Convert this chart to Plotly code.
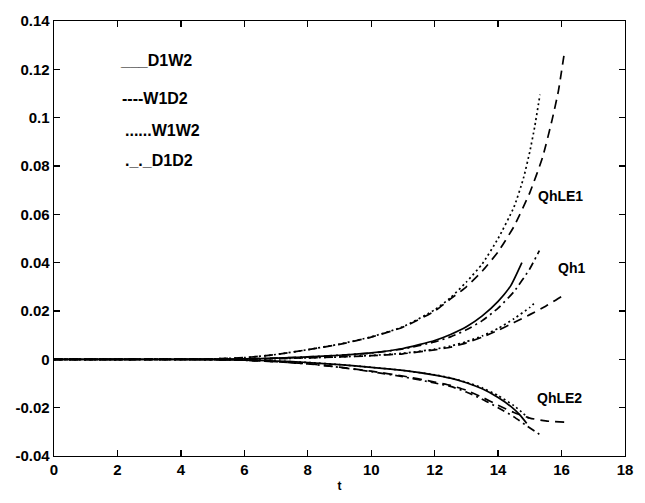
import plotly.graph_objects as go

# ---------------- data ----------------
# QhLE1 group (upper)
t_w1d2_le1 = [0, 2, 4, 5, 6, 7, 8, 9, 10, 11, 12, 12.5, 13, 13.5, 14, 14.5, 15, 15.4, 15.7, 15.9, 16.09]
y_w1d2_le1 = [0, 0, 0.0001, 0.0002, 0.0007, 0.0020, 0.0040, 0.0062, 0.0092, 0.0133, 0.0200, 0.0250, 0.0300, 0.0365, 0.0445, 0.0550, 0.0690, 0.0835, 0.0990, 0.1110, 0.1270]

t_w1w2_le1 = [0, 2, 4, 5, 6, 7, 8, 9, 10, 11, 12, 12.5, 13, 13.5, 14, 14.5, 14.8, 15.0, 15.15, 15.32]
y_w1w2_le1 = [0, 0, 0.0001, 0.0002, 0.0007, 0.0020, 0.0040, 0.0063, 0.0093, 0.0135, 0.0205, 0.0255, 0.0320, 0.0395, 0.0500, 0.0630, 0.0750, 0.0860, 0.0960, 0.1095]

# Qh1 group (middle)
t_d1w2_qh1 = [0, 2, 4, 6, 7, 8, 9, 10, 11, 12, 12.5, 13, 13.5, 14, 14.4, 14.75]
y_d1w2_qh1 = [0, 0, 0, 0.0002, 0.0005, 0.0010, 0.0017, 0.0027, 0.0045, 0.0078, 0.0103, 0.0135, 0.0180, 0.0240, 0.0305, 0.0400]

t_d1d2_qh1 = [0, 2, 4, 6, 7, 8, 9, 10, 11, 12, 12.5, 13, 13.5, 14, 14.5, 15, 15.3]
y_d1d2_qh1 = [0, 0, 0, 0.0002, 0.0005, 0.0010, 0.0017, 0.0026, 0.0043, 0.0072, 0.0093, 0.0122, 0.0160, 0.0212, 0.0280, 0.0375, 0.0450]

t_w1w2_qh1 = [0, 2, 4, 6, 7, 8, 9, 10, 11, 12, 12.5, 13, 13.5, 14, 14.5, 15, 15.2]
y_w1w2_qh1 = [0, 0, 0, 0.0001, 0.0003, 0.0006, 0.0010, 0.0016, 0.0025, 0.0042, 0.0055, 0.0073, 0.0097, 0.0128, 0.0168, 0.0215, 0.0240]

t_w1d2_qh1 = [0, 2, 4, 6, 7, 8, 9, 10, 11, 12, 12.5, 13, 13.5, 14, 14.5, 15, 15.5, 16, 16.1]
y_w1d2_qh1 = [0, 0, 0, 0.0001, 0.0003, 0.0006, 0.0010, 0.0015, 0.0023, 0.0039, 0.0050, 0.0068, 0.0092, 0.0120, 0.0152, 0.0185, 0.0220, 0.0260, 0.0270]

# QhLE2 group (lower, negative)
t_d1w2_le2 = [0, 2, 4, 6, 7, 8, 9, 10, 11, 12, 12.5, 13, 13.5, 14, 14.4, 14.7, 14.9]
y_d1w2_le2 = [0, 0, 0, -0.0003, -0.0007, -0.0013, -0.0022, -0.0033, -0.0046, -0.0065, -0.0078, -0.0097, -0.0122, -0.0158, -0.0195, -0.0232, -0.0265]

t_w1w2_le2 = [0, 2, 4, 6, 7, 8, 9, 10, 11, 12, 12.5, 13, 13.5, 14, 14.5, 14.8, 15.0]
y_w1w2_le2 = [0, 0, 0, -0.0003, -0.0007, -0.0013, -0.0022, -0.0033, -0.0046, -0.0064, -0.0077, -0.0095, -0.0118, -0.0150, -0.0192, -0.0225, -0.0248]

t_d1d2_le2 = [0, 2, 4, 6, 7, 8, 9, 10, 11, 12, 12.5, 13, 13.5, 14, 14.5, 14.9, 15.3]
y_d1d2_le2 = [0, 0, 0, -0.0004, -0.0010, -0.0019, -0.0033, -0.0051, -0.0072, -0.0098, -0.0112, -0.0135, -0.0165, -0.0200, -0.0238, -0.0275, -0.0310]

t_w1d2_le2 = [0, 2, 4, 6, 7, 8, 9, 10, 11, 12, 12.5, 13, 13.5, 14, 14.5, 15, 15.5, 16.1]
y_w1d2_le2 = [0, 0, 0, -0.0004, -0.0010, -0.0018, -0.0032, -0.0049, -0.0069, -0.0094, -0.0108, -0.0128, -0.0157, -0.0190, -0.0220, -0.0243, -0.0255, -0.0260]

x_ticks = [0, 2, 4, 6, 8, 10, 12, 14, 16, 18]
y_ticks = [-0.04, -0.02, 0, 0.02, 0.04, 0.06, 0.08, 0.1, 0.12, 0.14]
y_ticktext = ["-0.04", "-0.02", "0", "0.02", "0.04", "0.06", "0.08", "0.1", "0.12", "0.14"]

legend_texts = ["___D1W2", "----W1D2", "......W1W2", "._._D1D2"]
curve_labels = ["QhLE1", "Qh1", "QhLE2"]

# ---------------- figure ----------------
styles = {
    "solid": dict(color="black", width=1.7, dash="solid"),
    "dash": dict(color="black", width=1.7, dash="9px,6px"),
    "dot": dict(color="black", width=1.7, dash="2px,3px"),
    "dashdot": dict(color="black", width=1.7, dash="8px,4px,2px,4px"),
}

curves = [
    (t_w1d2_le1, y_w1d2_le1, "dash"),
    (t_w1w2_le1, y_w1w2_le1, "dot"),
    (t_d1w2_qh1, y_d1w2_qh1, "solid"),
    (t_d1d2_qh1, y_d1d2_qh1, "dashdot"),
    (t_w1w2_qh1, y_w1w2_qh1, "dot"),
    (t_w1d2_qh1, y_w1d2_qh1, "dash"),
    (t_d1w2_le2, y_d1w2_le2, "solid"),
    (t_w1w2_le2, y_w1w2_le2, "dot"),
    (t_d1d2_le2, y_d1d2_le2, "dashdot"),
    (t_w1d2_le2, y_w1d2_le2, "dash"),
]

fig = go.Figure()
for tx, yy, st in curves:
    fig.add_trace(go.Scatter(x=tx, y=yy, mode="lines", line=dict(**styles[st], shape="spline", smoothing=0.5),
                             showlegend=False, hoverinfo="skip"))

FAM = "Liberation Sans, Arial, sans-serif"
font_tick = dict(family=FAM, size=15, color="black", weight="bold")

# text legend (typed in the original as plain text)
leg_pos = [(118, 0.1237), (120, 0.1078), (123, 0.0945), (123, 0.0823)]
for txt, (px, yv) in zip(legend_texts, leg_pos):
    fig.add_annotation(x=(px - 54) / 31.78, y=yv, text=txt, showarrow=False, xanchor="left",
                       yanchor="middle", font=dict(family=FAM, size=16, color="black", weight="bold"))

lab_pos = [(15.96, 0.0675), (16.3, 0.0378), (15.95, -0.0158)]
for txt, (xv, yv) in zip(curve_labels, lab_pos):
    fig.add_annotation(x=xv, y=yv, text=txt, showarrow=False, xanchor="center", yanchor="middle",
                       font=dict(family=FAM, size=14, color="black", weight="bold"))

axis_common = dict(showline=True, linecolor="black", linewidth=1.4, mirror="ticks", ticks="inside",
                   ticklen=6, tickwidth=1.3, tickcolor="black", showgrid=False, zeroline=False,
                   tickfont=font_tick)

fig.update_xaxes(range=[0, 18], tickvals=x_ticks, ticktext=[str(v) for v in x_ticks],
                 title=dict(text="t", font=dict(family=FAM, size=12, color="black", weight="bold"), standoff=4),
                 **axis_common)
fig.update_yaxes(range=[-0.04, 0.14], tickvals=y_ticks, ticktext=y_ticktext, **axis_common)

fig.update_layout(width=645, height=503, margin=dict(l=54, r=19, t=21, b=36),
                  plot_bgcolor="white", paper_bgcolor="white")

fig.write_html("out.html", config={"displayModeBar": False, "staticPlot": True},
               post_script="document.body.style.margin='0';document.body.style.padding='0';")
